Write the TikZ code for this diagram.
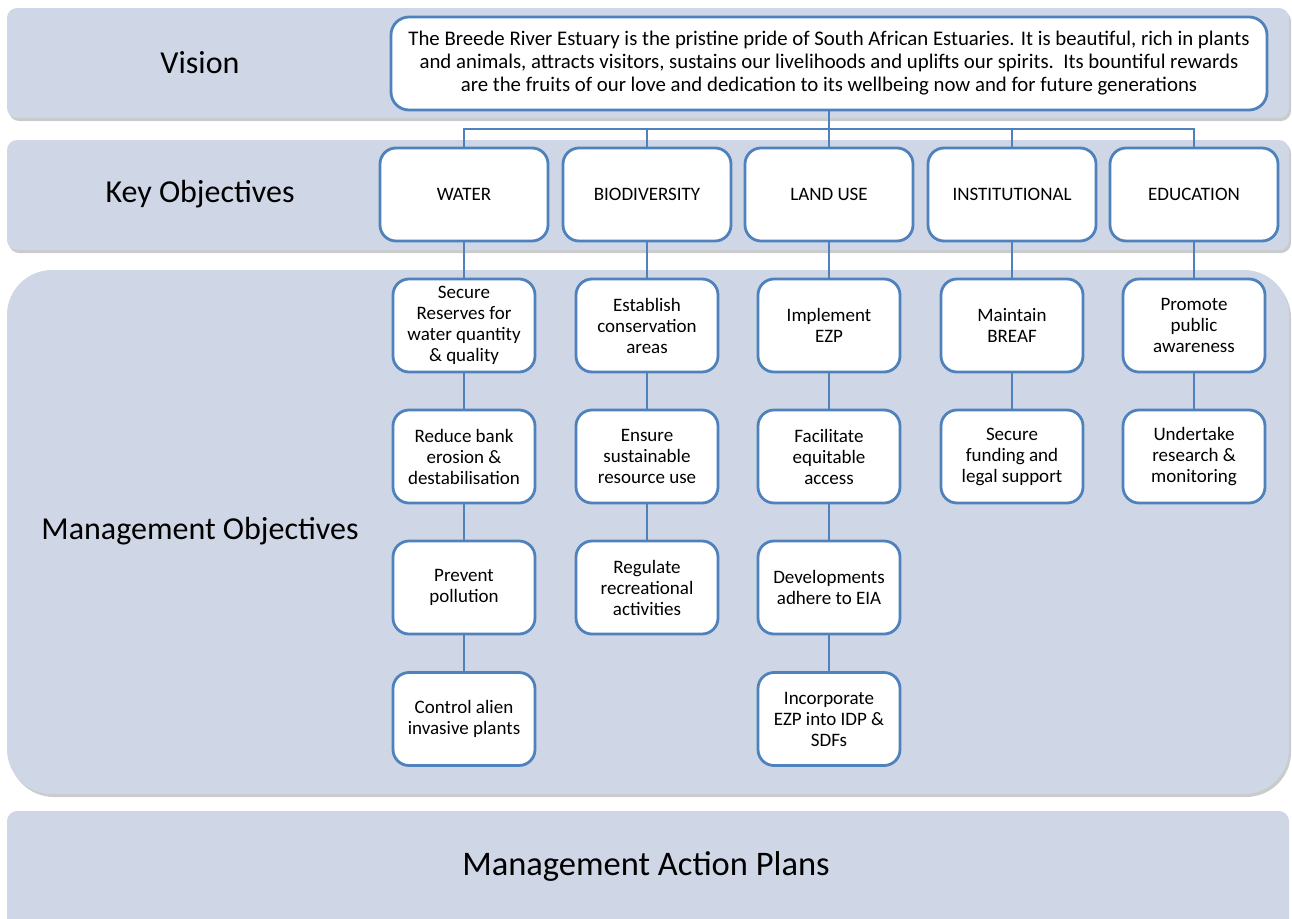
\documentclass[tikz,border=0pt]{standalone}
\usepackage{fontspec}
\setmainfont{Carlito}
\definecolor{bandfill}{HTML}{CFD7E6}
\definecolor{edgeblue}{HTML}{4F81BD}
\begin{document}
\begin{tikzpicture}[x=1pt,y=-1pt,
  bandstyle/.style={fill=bandfill},
  shadowstyle/.style={fill=black!45, opacity=0.45},
  visbox/.style={draw=edgeblue, line width=2.8pt, fill=white, rounded corners=18pt,
    minimum width=876pt, minimum height=93pt, align=center, inner sep=0pt,
    font=\fontsize{20.8}{23}\selectfont},
  keybox/.style={draw=edgeblue, line width=2.8pt, fill=white, rounded corners=16pt,
    minimum width=168pt, minimum height=93pt, inner sep=0pt,
    font=\fontsize{19}{21}\selectfont},
  mbox/.style={draw=edgeblue, line width=2.8pt, fill=white, rounded corners=16pt,
    minimum width=142pt, minimum height=93pt, inner sep=0pt, align=center,
    font=\fontsize{19}{21}\selectfont},
  conn/.style={draw=edgeblue, line width=2.8pt},
  lbl/.style={font=\fontsize{32}{36}\selectfont},
  biglbl/.style={font=\fontsize{34.5}{40}\selectfont}
]
\useasboundingbox (0,0) rectangle (1292,918);
\clip (0,0) rectangle (1292,918);
% bands with shadows
\fill[shadowstyle, rounded corners=10pt] (9,11) rectangle (1291,121);
\fill[bandstyle, rounded corners=10pt] (7,8) rectangle (1289,118);
\fill[shadowstyle, rounded corners=10pt] (9,143) rectangle (1291,253);
\fill[bandstyle, rounded corners=10pt] (7,140) rectangle (1289,250);
\fill[shadowstyle, rounded corners=45pt] (9,273) rectangle (1291,797);
\fill[bandstyle, rounded corners=45pt] (7,270) rectangle (1289,794);
\fill[bandstyle, rounded corners=10pt] (7,811) rectangle (1289,940);

% band labels
\node[lbl] (lvision) at (200,63) {Vision};
\node[lbl] (lkey) at (200,194) {Key Objectives};
\node[lbl] (lmgmt) at (200,531) {Management Objectives};
\node[biglbl] (lplans) at (646,866) {Management Action Plans};

\coordinate (bus) at (829,129);

% vision
\node[visbox] (vis) at (829,63.5) {The Breede River Estuary is the pristine pride of South African Estuaries. It is beautiful, rich in plants\\and animals, attracts visitors, sustains our livelihoods and uplifts our spirits.\ \ Its bountiful rewards\\are the fruits of our love and dedication to its wellbeing now and for future generations};

% key objectives
\node[keybox] (kw) at (464,194.5) {WATER};
\node[keybox] (kb) at (647,194.5) {BIODIVERSITY};
\node[keybox] (kl) at (829,194.5) {LAND USE};
\node[keybox] (ki) at (1012,194.5) {INSTITUTIONAL};
\node[keybox] (ke) at (1194,194.5) {EDUCATION};

% management objectives
\node[mbox] (w1) at (464,325.5) {Secure\\Reserves for\\water quantity\\\& quality};
\node[mbox] (w2) at (464,456.5) {Reduce bank\\erosion \&\\destabilisation};
\node[mbox] (w3) at (464,587.5) {Prevent\\pollution};
\node[mbox] (w4) at (464,719) {Control alien\\invasive plants};

\node[mbox] (b1) at (647,325.5) {Establish\\conservation\\areas};
\node[mbox] (b2) at (647,456.5) {Ensure\\sustainable\\resource use};
\node[mbox] (b3) at (647,587.5) {Regulate\\recreational\\activities};

\node[mbox] (l1) at (829,325.5) {Implement\\EZP};
\node[mbox] (l2) at (829,456.5) {Facilitate\\equitable\\access};
\node[mbox] (l3) at (829,587.5) {Developments\\adhere to EIA};
\node[mbox] (l4) at (829,719) {Incorporate\\EZP into IDP \&\\SDFs};

\node[mbox] (i1) at (1012,325.5) {Maintain\\BREAF};
\node[mbox] (i2) at (1012,456.5) {Secure\\funding and\\legal support};

\node[mbox] (e1) at (1194,325.5) {Promote\\public\\awareness};
\node[mbox] (e2) at (1194,456.5) {Undertake\\research \&\\monitoring};

% connectors
\draw[conn] (vis.south) -- (bus);
\draw[conn] (bus) -| (kw.north);
\draw[conn] (bus) -| (kb.north);
\draw[conn] (bus) -- (kl.north);
\draw[conn] (bus) -| (ki.north);
\draw[conn] (bus) -| (ke.north);

\draw[conn] (kw.south) -- (w1.north);
\draw[conn] (w1.south) -- (w2.north);
\draw[conn] (w2.south) -- (w3.north);
\draw[conn] (w3.south) -- (w4.north);

\draw[conn] (kb.south) -- (b1.north);
\draw[conn] (b1.south) -- (b2.north);
\draw[conn] (b2.south) -- (b3.north);

\draw[conn] (kl.south) -- (l1.north);
\draw[conn] (l1.south) -- (l2.north);
\draw[conn] (l2.south) -- (l3.north);
\draw[conn] (l3.south) -- (l4.north);

\draw[conn] (ki.south) -- (i1.north);
\draw[conn] (i1.south) -- (i2.north);

\draw[conn] (ke.south) -- (e1.north);
\draw[conn] (e1.south) -- (e2.north);
\end{tikzpicture}
\end{document}
